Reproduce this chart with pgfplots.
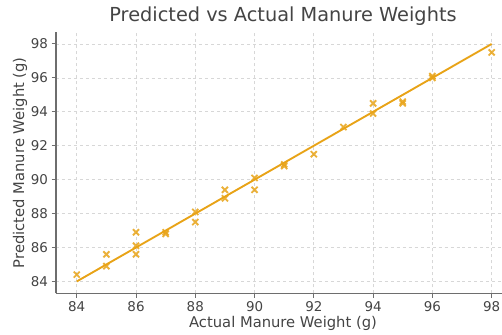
\documentclass[border=0pt]{standalone}
\usepackage{pgfplots}
\pgfplotsset{compat=1.18}
\usepackage{fontspec}
\setmainfont{DejaVu Sans}
\definecolor{gold}{RGB}{232,163,23}
\definecolor{txt}{RGB}{68,68,68}
\definecolor{spine}{RGB}{110,110,110}
\definecolor{gridc}{RGB}{215,215,215}
\begin{document}
\begin{tikzpicture}[x=1bp,y=1bp]
\useasboundingbox (0,0) rectangle (502,334);
\begin{axis}[
  at={(56bp,40.7bp)}, anchor=south west,
  scale only axis, width=446bp, height=261.2bp,
  xmin=83.3, xmax=98.35, ymin=83.3, ymax=98.7,
  axis x line*=bottom, axis y line*=left,
  axis line style={spine, line width=1.4pt},
  xtick={84,86,...,98}, ytick={84,86,...,98},
  tick style={spine, line width=1pt},
  tick align=outside, major tick length=4.5bp,
  grid=major, grid style={gridc, dashed, line width=0.7pt},
  tick label style={font=\fontsize{13.5}{16}\selectfont, text=txt},
  /pgf/number format/assume math mode=true,
  clip=false,
]
\addplot[gold, line width=1.9pt] coordinates {(84,84) (98,98)};
\addplot[only marks, mark=x, mark size=4.3bp, gold, mark options={line width=1.9pt}, opacity=0.85] coordinates {
(84,84.4) (85,84.9) (85,85.6) (86,86.1) (86,85.6) (86,86.9)
(87,86.8) (87,86.9) (88,88.1) (88,87.5) (89,89.4) (89,88.9)
(90,90.1) (90,89.4) (91,90.8) (91,90.9) (92,91.5) (93,93.1)
(94,94.5) (94,93.9) (95,94.5) (95,94.6) (96,96.1) (96,96.0)
(98,97.5)};
\node[text=txt, font=\fontsize{19.4}{22}\selectfont] at (axis description cs:0.509,1.0616) {Predicted vs Actual Manure Weights};
\node[text=txt, font=\fontsize{14.8}{17}\selectfont] at (axis description cs:0.509,-0.1137) {Actual Manure Weight (g)};
\node[text=txt, font=\fontsize{14.8}{17}\selectfont, rotate=90] at (axis description cs:-0.0807,0.5) {Predicted Manure Weight (g)};
\end{axis}
\end{tikzpicture}
\end{document}
